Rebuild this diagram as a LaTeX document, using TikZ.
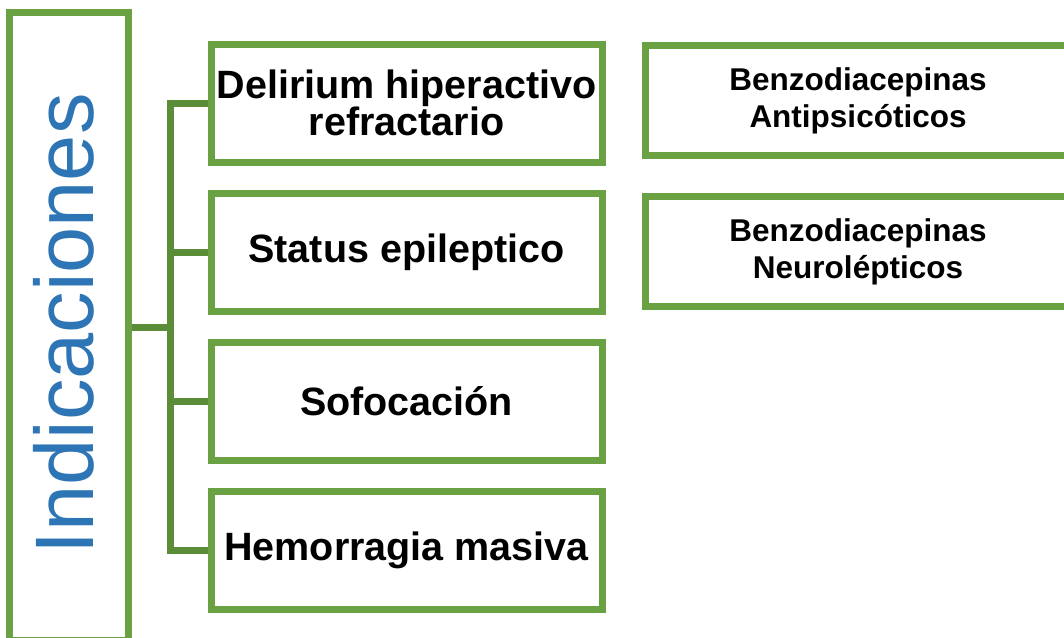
\documentclass[tikz,border=0pt]{standalone}
\usepackage{fontspec}
\setmainfont{Liberation Sans}
\usepackage{tikz}
\usetikzlibrary{positioning}

\definecolor{boxgreen}{HTML}{6AA142}
\definecolor{linkgreen}{HTML}{5B8C37}
\definecolor{titleblue}{HTML}{2E75B6}

\begin{document}
\begin{tikzpicture}[x=1pt,y=-1pt,
    box/.style={draw=boxgreen, line width=7pt, rectangle, fill=white, align=center,
        inner sep=0pt, text=black},
    cause/.style={box, minimum width=391pt, minimum height=118pt,
        font=\fontsize{39.5}{37}\selectfont\bfseries},
    drug/.style={box, minimum width=426pt, minimum height=110pt,
        font=\fontsize{31.5}{37}\selectfont\bfseries},
    link/.style={draw=linkgreen, line width=7pt}]
    \useasboundingbox (0,0) rectangle (1064,637);

    \node[box, minimum width=119pt, minimum height=628pt] at (69, 326) (ind) {};
    \node[rotate=90, inner sep=0pt, text=titleblue, font=\fontsize{83}{90}\selectfont]
        at (64, 324) (indtxt) {Indicaciones};

    \node[cause] at (406.5, 103) (d1) {Delirium hiperactivo\\refractario};
    \node[cause] at (406.5, 252) (d2) {Status epileptico};
    \node[cause] at (406.5, 401) (d3) {Sofocación};
    \node[cause] at (406.5, 550) (d4) {Hemorragia masiva};

    \node[drug] at (858, 100.5) (t1) {Benzodiacepinas\\Antipsicóticos};
    \node[drug] at (858, 251.5) (t2) {Benzodiacepinas\\Neurolépticos};

    \coordinate (trunk) at (170, 327);
    \draw[link] (ind.east |- trunk) -- (trunk);
    \draw[link] (d1.west) -- (trunk |- d1.west) -- (trunk |- d4.west) -- (d4.west);
    \draw[link] (trunk |- d2.west) -- (d2.west);
    \draw[link] (trunk |- d3.west) -- (d3.west);
\end{tikzpicture}
\end{document}
